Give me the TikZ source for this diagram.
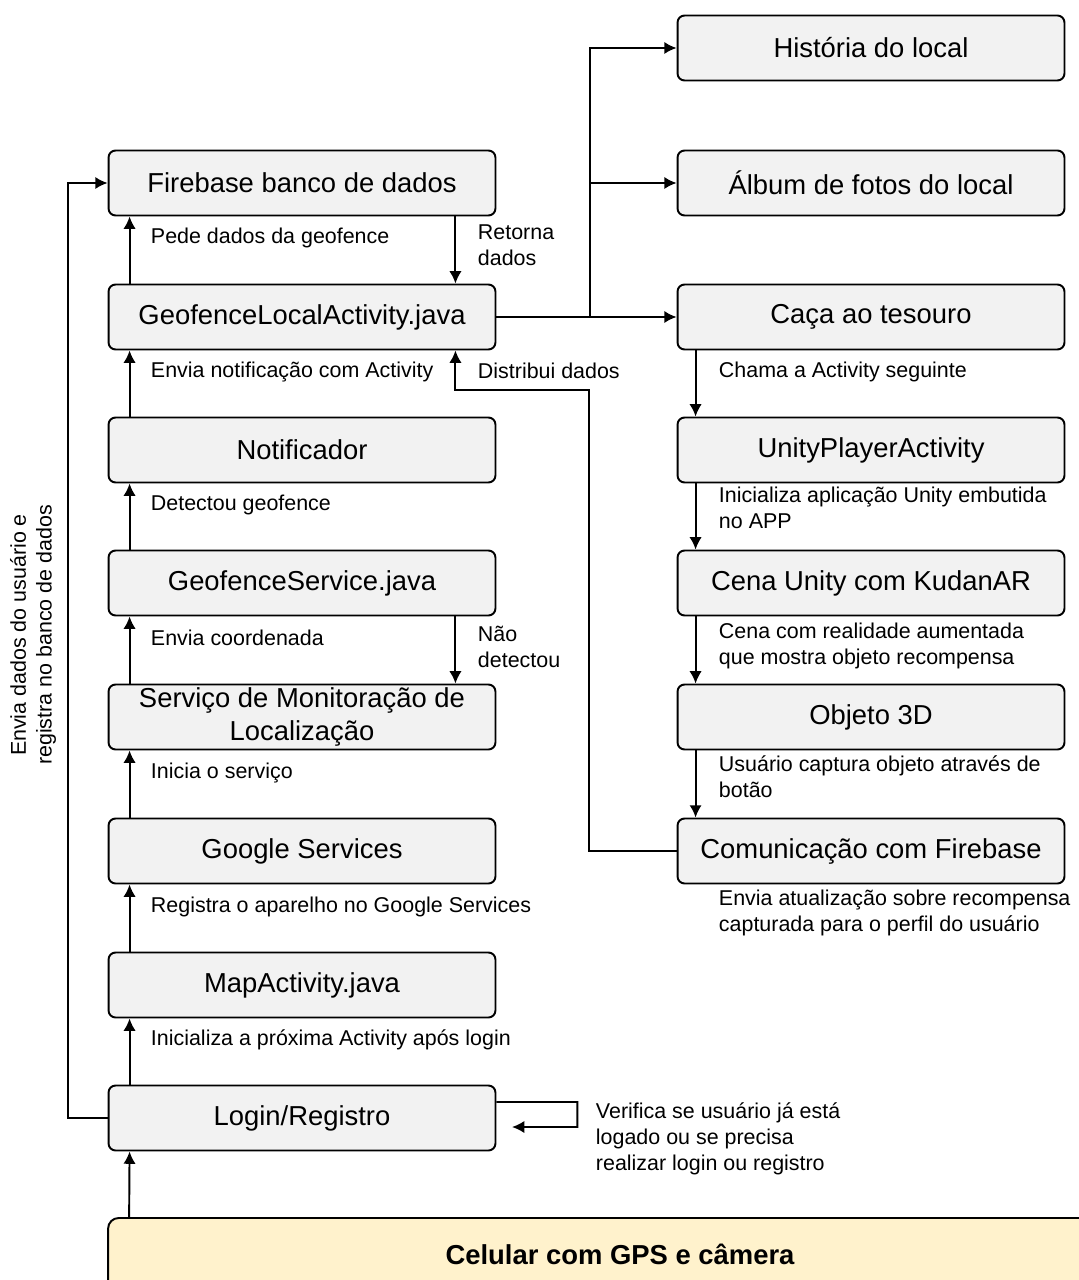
\documentclass[tikz,border=0pt]{standalone}
\usepackage{fontspec}
\setmainfont{Liberation Sans}
\usepackage{xcolor}
\usepackage{tikz}
\usetikzlibrary{arrows.meta}
\definecolor{boxgray}{HTML}{F2F2F2}
\definecolor{celyellow}{HTML}{FFF2CC}

\begin{document}
\begin{tikzpicture}[x=0.02cm,y=-0.02cm,>={Latex[length=7pt,width=7pt]},line width=1.1pt]
\tikzstyle{block}=[rectangle,draw=black,rounded corners=4pt,minimum height=1.3cm,minimum width=7.74cm,fill=boxgray,font=\fontsize{15.6}{18.6}\selectfont,align=center,inner sep=1pt]
\tikzstyle{lbl}=[anchor=west,font=\fontsize{12.2}{14.7}\selectfont,align=left,inner sep=0pt]
\useasboundingbox (0,0) rectangle (1078,1280);
% coluna da esquerda
\node[block] (fb) at (302,183) {Firebase banco de dados};
\node[block] (geo) at (302,317) {GeofenceLocalActivity.java};
\node[block] (not) at (302,450) {Notificador};
\node[block] (gsv) at (302,583) {GeofenceService.java};
\node[block] (mon) at (302,717) {Serviço de Monitoração de\\Localização};
\node[block] (gs) at (302,851) {Google Services};
\node[block] (map) at (302,985) {MapActivity.java};
\node[block] (log) at (302,1118) {Login/Registro};
\node[block,fill=celyellow,rounded corners=6pt,minimum width=20.48cm,minimum height=1.44cm,font=\bfseries\fontsize{15.6}{18.6}\selectfont] (cel) at (620,1254) {Celular com GPS e câmera};
% coluna da direita
\node[block] (hist) at (871,48) {História do local};
\node[block] (alb) at (871,183) {Álbum de fotos do local};
\node[block] (caca) at (871,317) {Caça ao tesouro};
\node[block] (uni) at (871,450) {UnityPlayerActivity};
\node[block] (cena) at (871,583) {Cena Unity com KudanAR};
\node[block] (obj) at (871,717) {Objeto 3D};
\node[block] (com) at (871,851) {Comunicação com Firebase};
% setas da esquerda
\draw[->] ([xshift=0.44cm]cel.north west) -- ([xshift=0.44cm]log.south west);
\draw[->] ([xshift=0.44cm]log.north west) -- ([xshift=0.44cm]map.south west);
\draw[->] ([xshift=0.44cm]map.north west) -- ([xshift=0.44cm]gs.south west);
\draw[->] ([xshift=0.44cm]gs.north west) -- ([xshift=0.44cm]mon.south west);
\draw[->] ([xshift=0.44cm]mon.north west) -- ([xshift=0.44cm]gsv.south west);
\draw[->] ([xshift=0.44cm]gsv.north west) -- ([xshift=0.44cm]not.south west);
\draw[->] ([xshift=0.44cm]not.north west) -- ([xshift=0.44cm]geo.south west);
\draw[->] ([xshift=0.44cm]geo.north west) -- ([xshift=0.44cm]fb.south west);
\draw[->] ([xshift=-0.82cm]fb.south east) -- ([xshift=-0.82cm]geo.north east);
\draw[->] ([xshift=-0.82cm]gsv.south east) -- ([xshift=-0.82cm]mon.north east);
\draw[->] (log.west) -- ++(-40,0) |- (fb.west);
\coordinate (lp) at (512,1127);
\draw[->] ([yshift=0.32cm]log.east) -- ++(81,0) -- ++(0,25) -- (lp);
% ramos para a direita
\coordinate (br) at (590,317);
\draw[->] (geo.east) -- (caca.west);
\draw[->] (br) |- (hist.west);
\draw[->] (br |- alb.west) -- (alb.west);
\draw[->] (com.west) -- ++(-88,0) |- ([xshift=-0.82cm,yshift=-0.8cm]geo.south east) -- ([xshift=-0.82cm]geo.south east);
% setas da direita
\draw[->] ([xshift=0.38cm]caca.south west) -- ([xshift=0.38cm]uni.north west);
\draw[->] ([xshift=0.38cm]uni.south west) -- ([xshift=0.38cm]cena.north west);
\draw[->] ([xshift=0.38cm]cena.south west) -- ([xshift=0.38cm]obj.north west);
\draw[->] ([xshift=0.38cm]obj.south west) -- ([xshift=0.38cm]com.north west);
% textos
\node[lbl] (t1) at (150,238) {Pede dados da geofence};
\node[lbl] (t2) at (150,372) {Envia notificação com Activity};
\node[lbl] (t3) at (150,505) {Detectou geofence};
\node[lbl] (t4) at (150,638) {Envia coordenada};
\node[lbl] (t5) at (150,773) {Inicia o serviço};
\node[lbl] (t6) at (150,907) {Registra o aparelho no Google Services};
\node[lbl] (t7) at (150,1040) {Inicializa a próxima Activity após login};
\node[lbl] (t8) at (477,245) {Retorna\\dados};
\node[lbl] (t9) at (477,647) {Não\\detectou};
\node[lbl] (t10) at (477,371) {Distribui dados};
\node[lbl] (t11) at (718,372) {Chama a Activity seguinte};
\node[lbl] (t12) at (718,508) {Inicializa aplicação Unity embutida\\no APP};
\node[lbl] (t13) at (718,646) {Cena com realidade aumentada\\que mostra objeto recompensa};
\node[lbl] (t14) at (718,777) {Usuário captura objeto através de\\botão};
\node[lbl] (t15) at (718,913) {Envia atualização sobre recompensa\\capturada para o perfil do usuário};
\node[lbl] (t16) at (595,1139) {Verifica se usuário já está\\logado ou se precisa\\realizar login ou registro};
\node[lbl,rotate=90,anchor=center,align=center] (t17) at (33,635) {Envia dados do usuário e\\registra no banco de dados};
\end{tikzpicture}
\end{document}
